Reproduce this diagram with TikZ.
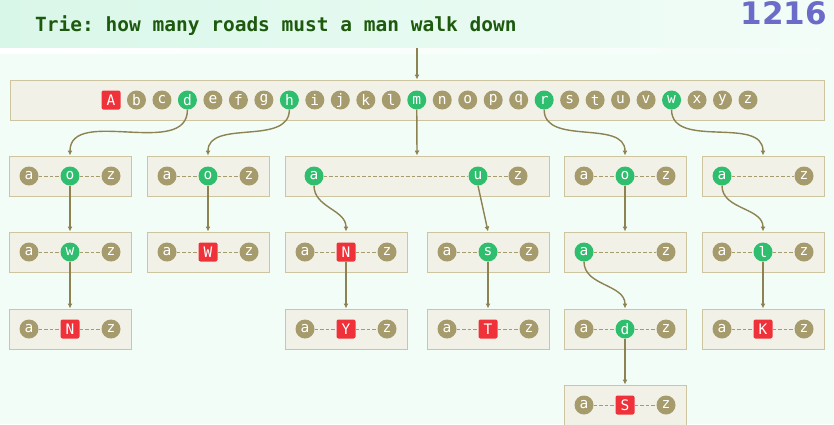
\documentclass[tikz,border=0pt]{standalone}
\usepackage{fontspec}
\setmainfont{DejaVu Sans}
\setmonofont{DejaVu Sans Mono}
\usepackage{tikz}
\usetikzlibrary{arrows.meta}

\definecolor{bgmint}{HTML}{F3FDF8}
\definecolor{headmint}{HTML}{D9F7E9}
\definecolor{titlegreen}{HTML}{1E5A0E}
\definecolor{numblue}{HTML}{6B6BC9}
\definecolor{boxfill}{HTML}{F1F1E8}
\definecolor{boxline}{HTML}{CCC5A0}
\definecolor{slottan}{HTML}{A69B6C}
\definecolor{hitgreen}{HTML}{2FBE6D}
\definecolor{wordred}{HTML}{EF3139}
\definecolor{linkolive}{HTML}{8C8252}

% one child array: a -- middle -- z
\newcommand{\slotbox}[5]{%
  \node [box] (#1) at (#2,#3) {};
  \node [leaf] (#1a) at ({#2-41},#3) {a};
  \node [#4] (#1m) at (#2,#3) {#5};
  \node [leaf] (#1z) at ({#2+41},#3) {z};
  \draw [rung] (#1a) -- (#1m) -- (#1z);
}

\begin{document}
\begin{tikzpicture}[x=1pt, y=-1pt,
    box/.style = {draw=boxline, fill=boxfill, line width=1pt, rectangle, minimum width=122pt, minimum height=40pt, inner sep=0pt},
    letter/.style = {text=white, inner sep=0pt, minimum size=19pt, font=\fontsize{14.5}{14.5}\selectfont\ttfamily},
    leaf/.style = {letter, circle, fill=slottan},
    hit/.style = {letter, circle, fill=hitgreen},
    word/.style = {letter, rectangle, rounded corners=2pt, fill=wordred},
    rung/.style = {draw=slottan, line width=0.9pt, dash pattern=on 3.5pt off 2pt},
    link/.style = {draw=linkolive, line width=1.4pt, -{Latex[length=5pt,width=5pt]}}]

    \useasboundingbox (0,0) rectangle (834,424);
    \fill [bgmint] (0,0) rectangle (834,424);
    % Header band, fading to the right
    \foreach \k in {0,...,41} {
        \pgfmathsetmacro{\pct}{100-\k*2.4}
        \fill [headmint!\pct!bgmint] ({\k*20},0) rectangle ({\k*20+20.5},48);
        \fill [white!\pct!bgmint] ({\k*20},48) rectangle ({\k*20+20.5},54);
    }

    % Title
    \node [anchor=base west, inner sep=0pt, text=titlegreen, font=\fontsize{19.5}{19.5}\selectfont\ttfamily\bfseries] (title) at (35,31) {Trie: how many roads must a man walk down};
    \node [anchor=base east, inner sep=0pt, text=numblue, font=\fontsize{31}{31}\selectfont\bfseries] (page) at (827,24) {1216};

    % Root array
    \coordinate (entry) at (417,48);
    \node [box, minimum width=814pt] (root) at (417,100) {};
    \foreach \ch/\kind [count=\i from 0] in {A/word,b/leaf,c/leaf,d/hit,e/leaf,f/leaf,g/leaf,h/hit,i/leaf,j/leaf,k/leaf,l/leaf,m/hit,n/leaf,o/leaf,p/leaf,q/leaf,r/hit,s/leaf,t/leaf,u/leaf,v/leaf,w/hit,x/leaf,y/leaf,z/leaf}
        \node [\kind] (root\ch) at ({111+\i*25.48},100) {\ch};
    \draw [link] (entry) -- (root);

    % First level
    \slotbox{do}{70}{176}{hit}{o}
    \slotbox{ho}{208}{176}{hit}{o}
    \node [box, minimum width=264pt] (m) at (417,176) {};
    \node [hit] (ma) at (314,176) {a};
    \node [hit] (mu) at (478,176) {u};
    \node [leaf] (mz) at (518,176) {z};
    \draw [rung] (ma) -- (mu) -- (mz);
    \slotbox{ro}{625}{176}{hit}{o}
    \node [box] (w) at (763,176) {};
    \node [hit] (wa) at (722,176) {a};
    \node [leaf] (wz) at (804,176) {z};
    \draw [rung] (wa) -- (wz);

    \draw [link] (rootd.south) to[out=-90, in=90] (do.north);
    \draw [link] (rooth.south) to[out=-90, in=90] (ho.north);
    \draw [link] (rootm.south) -- (m.north);
    \draw [link] (rootr.south) to[out=-90, in=90] (ro.north);
    \draw [link] (rootw.south) to[out=-90, in=90] (w.north);

    % Second level
    \slotbox{dow}{70}{252}{hit}{w}
    \slotbox{how}{208}{252}{word}{W}
    \slotbox{man}{346}{252}{word}{N}
    \slotbox{mus}{488}{252}{hit}{s}
    \node [box] (roa) at (625,252) {};
    \node [hit] (roaa) at (584,252) {a};
    \node [leaf] (roaz) at (666,252) {z};
    \draw [rung] (roaa) -- (roaz);
    \slotbox{wal}{763}{252}{hit}{l}

    \draw [link] (dom.south) -- (dow.north);
    \draw [link] (hom.south) -- (how.north);
    \draw [link] (ma.south) to[out=-90, in=90] (man.north);
    \draw [link] (mu.south) -- (mus.north);
    \draw [link] (rom.south) -- (roa.north);
    \draw [link] (wa.south) to[out=-90, in=90] (wal.north);

    % Third level
    \slotbox{down}{70}{329}{word}{N}
    \slotbox{many}{346}{329}{word}{Y}
    \slotbox{must}{488}{329}{word}{T}
    \slotbox{road}{625}{329}{hit}{d}
    \slotbox{walk}{763}{329}{word}{K}

    \draw [link] (dowm.south) -- (down.north);
    \draw [link] (manm.south) -- (many.north);
    \draw [link] (musm.south) -- (must.north);
    \draw [link] (roaa.south) to[out=-90, in=90] (road.north);
    \draw [link] (walm.south) -- (walk.north);

    % Fourth level
    \slotbox{roads}{625}{405}{word}{S}
    \draw [link] (roadm.south) -- (roads.north);
\end{tikzpicture}
\end{document}
